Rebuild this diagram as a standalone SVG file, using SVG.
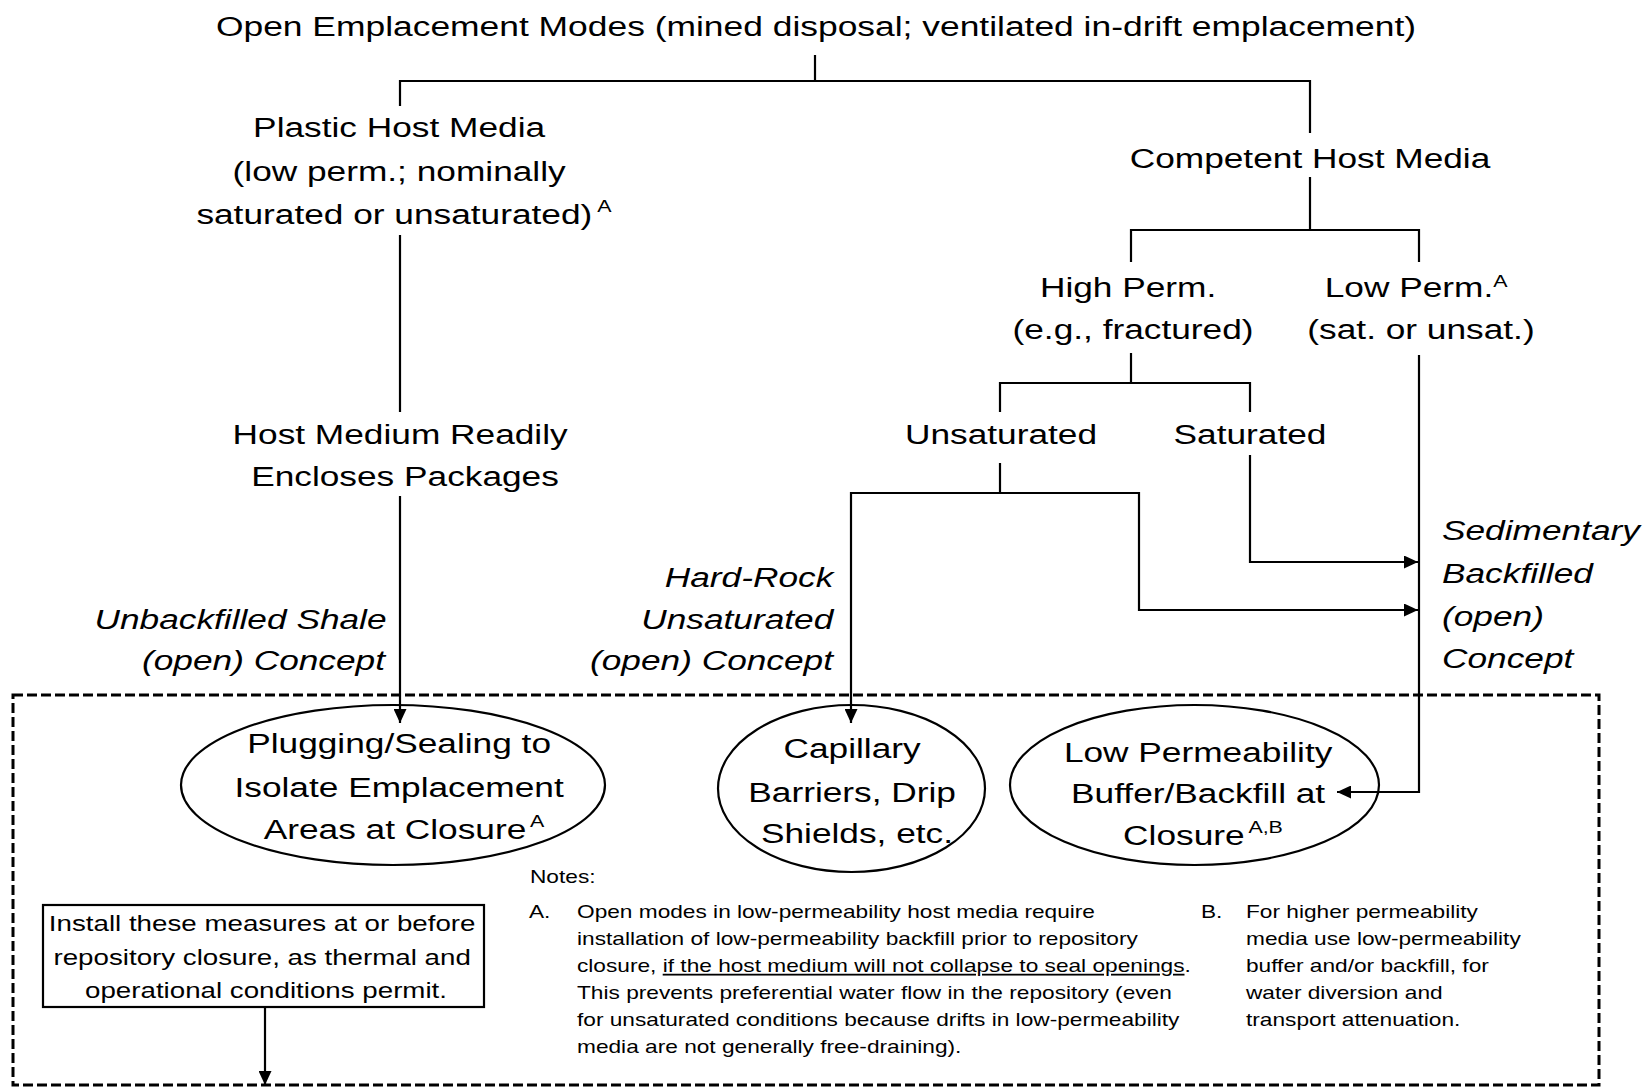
<svg xmlns="http://www.w3.org/2000/svg" width="1650" height="1088" viewBox="0 0 1650 1088">
<style>
text{font-family:"Liberation Sans",Arial,sans-serif;fill:#000}
.m{font-size:28px}
.i{font-size:28px;font-style:italic}
.b{font-size:22px}
.n{font-size:18px}
.c{text-anchor:middle}
.e{text-anchor:end}
.sup{font-size:17px}
.ln{fill:none;stroke:#000;stroke-width:2.2}
.arr{fill:none;stroke:#000;stroke-width:2.2;marker-end:url(#ah)}
.node{fill:#fff;stroke:#000;stroke-width:2.2}
</style>
<defs>
<marker id="ah" viewBox="0 0 14 13" refX="14" refY="6.5" markerWidth="14" markerHeight="13" markerUnits="userSpaceOnUse" orient="auto">
<path d="M0 0 L14 6.5 L0 13 z" fill="#000"/>
</marker>
</defs>
<rect width="1650" height="1088" fill="#fff"/>
<rect x="13" y="695" width="1586" height="390" fill="none" stroke="#000" stroke-width="3" stroke-dasharray="10 4"/>

<g id="title"><text class="m c" transform="translate(816 0) scale(1.265 1)" x="0" y="36">Open Emplacement Modes (mined disposal; ventilated  in-drift emplacement)</text></g>

<g id="plastic"><text class="m c" transform="translate(404 0) scale(1.26 1)">
<tspan x="0" y="137">Plastic Host Media</tspan>
<tspan x="0" y="181">(low perm.; nominally</tspan>
<tspan x="0" y="224">saturated or unsaturated)<tspan class="sup" dx="4" dy="-12">A</tspan></tspan></text></g>

<g id="competent"><text class="m c" transform="translate(1310 0) scale(1.26 1)" x="0" y="168">Competent Host Media</text></g>

<g id="highperm"><text class="m c" transform="translate(1133 0) scale(1.26 1)">
<tspan x="0" y="297">High Perm.</tspan>
<tspan x="0" y="339">(e.g., fractured)</tspan></text></g>

<g id="lowperm"><text class="m c" transform="translate(1421 0) scale(1.26 1)">
<tspan x="0" y="297">Low Perm.<tspan class="sup" dy="-10">A</tspan></tspan>
<tspan x="0" y="339">(sat. or unsat.)</tspan></text></g>

<g id="unsaturated"><text class="m c" transform="translate(1001 0) scale(1.26 1)" x="0" y="444">Unsaturated</text></g>
<g id="saturated"><text class="m c" transform="translate(1250 0) scale(1.26 1)" x="0" y="444">Saturated</text></g>

<g id="hostmedium"><text class="m c" transform="translate(405 0) scale(1.26 1)">
<tspan x="0" y="444">Host Medium Readily</tspan>
<tspan x="0" y="486">Encloses Packages</tspan></text></g>

<g id="shale-concept"><text class="i e" transform="translate(385 0) scale(1.26 1)">
<tspan x="9" y="629">Unbackfilled Shale</tspan>
<tspan x="0" y="670">(open) Concept</tspan></text></g>

<g id="hardrock-concept"><text class="i e" transform="translate(833 0) scale(1.26 1)">
<tspan x="8" y="587">Hard-Rock</tspan>
<tspan x="8" y="629">Unsaturated</tspan>
<tspan x="0" y="670">(open) Concept</tspan></text></g>

<g id="sedimentary-concept"><text class="i" transform="translate(1442 0) scale(1.26 1)">
<tspan x="0" y="540">Sedimentary</tspan>
<tspan x="0" y="583">Backfilled</tspan>
<tspan x="0" y="626">(open)</tspan>
<tspan x="0" y="668">Concept</tspan></text></g>

<g id="plugging">
<ellipse class="node" cx="393" cy="785" rx="212" ry="80"/>
<text class="m c" transform="translate(404 0) scale(1.26 1)">
<tspan x="0" y="753">Plugging/Sealing to</tspan>
<tspan x="0" y="797">Isolate Emplacement</tspan>
<tspan x="0" y="839">Areas at Closure<tspan class="sup" dx="3" dy="-12">A</tspan></tspan></text>
</g>

<g id="capillary">
<ellipse class="node" cx="851.5" cy="788.5" rx="133.5" ry="83.5"/>
<text class="m c" transform="translate(857 0) scale(1.26 1)">
<tspan x="0" y="758">Capillary</tspan>
<tspan x="0" y="802">Barriers, Drip</tspan>
<tspan x="0" y="843">Shields, etc.</tspan></text>
</g>

<g id="lowperm-buffer">
<ellipse class="node" cx="1194.5" cy="785" rx="184.5" ry="80"/>
<text class="m c" transform="translate(1203 0) scale(1.26 1)">
<tspan x="0" y="762">Low Permeability</tspan>
<tspan x="0" y="803">Buffer/Backfill at</tspan>
<tspan x="0" y="845">Closure<tspan class="sup" dx="3" dy="-12">A,B</tspan></tspan></text>
</g>

<g id="install-box">
<rect x="43" y="905" width="441" height="102" fill="#fff" stroke="#000" stroke-width="2.2"/>
<text class="b c" transform="translate(266 0) scale(1.26 1)">
<tspan x="0" y="931">Install  these measures at or before</tspan>
<tspan x="0" y="965">repository closure, as thermal and</tspan>
<tspan x="0" y="998">operational  conditions permit.</tspan></text>
</g>

<g id="notes">
<text class="n" transform="translate(530 0) scale(1.26 1)" x="0" y="883">Notes:</text>
<text class="n" transform="translate(529 0) scale(1.26 1)" x="0" y="918">A.</text>
<text class="n" transform="translate(577 0) scale(1.26 1)">
<tspan x="0" y="918">Open modes in low-permeability host media require</tspan>
<tspan x="0" y="945">installation  of low-permeability backfill prior to repository</tspan>
<tspan x="0" y="972">closure, <tspan text-decoration="underline">if the host medium will not collapse to seal openings</tspan>.</tspan>
<tspan x="0" y="999">This prevents preferential water flow in the repository (even</tspan>
<tspan x="0" y="1026">for unsaturated conditions because drifts in low-permeability</tspan>
<tspan x="0" y="1053">media are not generally free-draining).</tspan></text>
<text class="n" transform="translate(1201 0) scale(1.26 1)" x="0" y="918">B.</text>
<text class="n" transform="translate(1246 0) scale(1.26 1)">
<tspan x="0" y="918">For higher permeability</tspan>
<tspan x="0" y="945">media use low-permeability</tspan>
<tspan x="0" y="972">buffer and/or backfill, for</tspan>
<tspan x="0" y="999">water diversion and</tspan>
<tspan x="0" y="1026">transport attenuation.</tspan></text>
</g>

<g id="connectors">
<path class="ln" d="M815 55 V81"/>
<path class="ln" d="M400 106 V81 H1310 V133"/>
<path class="ln" d="M400 235 V412"/>
<path class="arr" d="M400 496 V723"/>
<path class="ln" d="M1310 177 V230"/>
<path class="ln" d="M1131 262 V230 H1419 V262"/>
<path class="ln" d="M1131 353 V383"/>
<path class="ln" d="M1000 412 V383 H1250 V412"/>
<path class="ln" d="M1000 463 V493"/>
<path class="arr" d="M1000 493 H851 V723"/>
<path class="arr" d="M1000 493 H1139 V610 H1418"/>
<path class="arr" d="M1250 455 V562 H1418"/>
<path class="arr" d="M1419 355 V792 H1337"/>
<path class="arr" d="M265 1007 V1085"/>
</g>
</svg>
